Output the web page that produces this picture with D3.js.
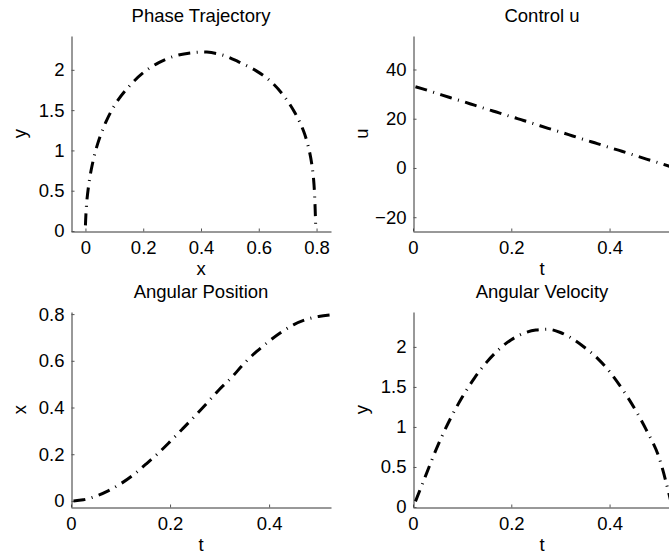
<!DOCTYPE html>
<html>
<head>
<meta charset="utf-8">
<script src="https://cdn.jsdelivr.net/npm/d3@7"></script>
<style>
  body { margin: 0; background: #fff; }
  text { font-family: "Liberation Sans", Arial, Helvetica, sans-serif; fill: #000; }
</style>
</head>
<body>
<div id="fig"></div>
<script>
// time samples and the states
const t     = [0.005, 0.025, 0.05, 0.075, 0.1, 0.125, 0.15, 0.175, 0.2, 0.225, 0.25,
               0.275, 0.3, 0.325, 0.35, 0.375, 0.4, 0.425, 0.45, 0.475, 0.5, 0.525]
const posX  = [0.000, 0.005, 0.020, 0.043, 0.073, 0.110, 0.155, 0.202, 0.254, 0.308, 0.363,
               0.420, 0.478, 0.530, 0.590, 0.640, 0.684, 0.723, 0.755, 0.777, 0.790, 0.797]
const velY  = [0.07, 0.38, 0.76, 1.09, 1.37, 1.61, 1.81, 1.97, 2.09, 2.17, 2.21,
               2.22, 2.18, 2.10, 1.99, 1.86, 1.69, 1.48, 1.24, 0.96, 0.63, 0.06]
const ctrlU = [33.0, 31.8, 30.2, 28.6, 27.1, 25.5, 23.9, 22.4, 20.8, 19.3, 17.7,
               16.1, 14.6, 13.0, 11.4, 9.9, 8.3, 6.8, 5.2, 3.6, 2.1, 0.5]

const xTicksPhase = [0, 0.2, 0.4, 0.6, 0.8]
const tTicks      = [0, 0.2, 0.4]
const yTicksVel   = [0, 0.5, 1, 1.5, 2]
const uTicks      = [-20, 0, 20, 40]
const xTicksPos   = [0, 0.2, 0.4, 0.6, 0.8]

const width = 669
const height = 557
const fontSize = 18.5

const panels = [
  { title: 'Phase Trajectory', xlabel: 'x', ylabel: 'y',
    left: 71, right: 331, top: 36, bottom: 231,
    xDom: [-0.05, 0.85], yDom: [0, 2.42], xTicks: xTicksPhase, yTicks: yTicksVel,
    xs: posX, ys: velY, curve: d3.curveCatmullRom },
  { title: 'Control u', xlabel: 't', ylabel: 'u',
    left: 413, right: 671, top: 36, bottom: 231,
    xDom: [0, 0.525], yDom: [-25.6, 53.6], xTicks: tTicks, yTicks: uTicks,
    xs: t, ys: ctrlU, curve: d3.curveMonotoneX },
  { title: 'Angular Position', xlabel: 't', ylabel: 'x',
    left: 71, right: 331, top: 312, bottom: 507,
    xDom: [0, 0.525], yDom: [-0.026, 0.809], xTicks: tTicks, yTicks: xTicksPos,
    xs: t, ys: posX, curve: d3.curveMonotoneX },
  { title: 'Angular Velocity', xlabel: 't', ylabel: 'y',
    left: 413, right: 671, top: 312, bottom: 507,
    xDom: [0, 0.525], yDom: [0, 2.436], xTicks: tTicks, yTicks: yTicksVel,
    xs: t, ys: velY, curve: d3.curveMonotoneX }
]

const svg = d3.select('#fig')
  .append('svg')
  .attr('width', width)
  .attr('height', height)
  .attr('viewBox', `0 0 ${width} ${height}`)

svg.append('rect').attr('width', width).attr('height', height).attr('fill', '#fff')

const fmt = d3.format('~g')

panels.forEach(p => {
  const x = d3.scaleLinear().domain(p.xDom).range([p.left, p.right])
  const y = d3.scaleLinear().domain(p.yDom).range([p.bottom, p.top])

  // bottom axis, ticks pointing inward (MATLAB style)
  const gx = svg.append('g')
    .attr('transform', `translate(0,${p.bottom + 0.5})`)
    .call(d3.axisBottom(x)
      .tickValues(p.xTicks)
      .tickSizeInner(-3)
      .tickSizeOuter(0)
      .tickFormat(fmt))
  gx.select('.domain').attr('stroke', '#333')
  gx.selectAll('.tick line').attr('stroke', '#555')
  gx.selectAll('.tick text')
    .attr('font-size', fontSize)
    .attr('font-family', '"Liberation Sans", Arial, sans-serif')
    .attr('fill', '#000')
    .attr('dy', 0)
    .attr('y', 22)

  const gy = svg.append('g')
    .attr('transform', `translate(${p.left + 0.5},0)`)
    .call(d3.axisLeft(y)
      .tickValues(p.yTicks)
      .tickSizeInner(-3)
      .tickSizeOuter(0)
      .tickFormat(fmt))
  gy.select('.domain').attr('stroke', '#333')
  gy.selectAll('.tick line').attr('stroke', '#555')
  gy.selectAll('.tick text')
    .attr('font-size', fontSize)
    .attr('font-family', '"Liberation Sans", Arial, sans-serif')
    .attr('fill', '#000')
    .attr('x', -7)

  // dash-dot curve
  const line = d3.line()
    .x((d, i) => x(p.xs[i]))
    .y((d, i) => y(p.ys[i]))
    .curve(p.curve)
  svg.append('path')
    .datum(p.xs)
    .attr('d', line)
    .attr('fill', 'none')
    .attr('stroke', '#000')
    .attr('stroke-width', 3)
    .attr('stroke-dasharray', '12,6.5,1,6.5')

  // title and axis labels
  svg.append('text')
    .attr('x', (p.left + p.right) / 2)
    .attr('y', p.top - 14)
    .attr('text-anchor', 'middle')
    .attr('font-size', fontSize)
    .text(p.title)

  svg.append('text')
    .attr('x', (p.left + p.right) / 2)
    .attr('y', p.bottom + 44)
    .attr('text-anchor', 'middle')
    .attr('font-size', fontSize)
    .text(p.xlabel)

  svg.append('text')
    .attr('transform', `translate(${p.left - 45},${(p.top + p.bottom) / 2}) rotate(-90)`)
    .attr('text-anchor', 'middle')
    .attr('font-size', fontSize)
    .text(p.ylabel)
})
</script>
</body>
</html>
